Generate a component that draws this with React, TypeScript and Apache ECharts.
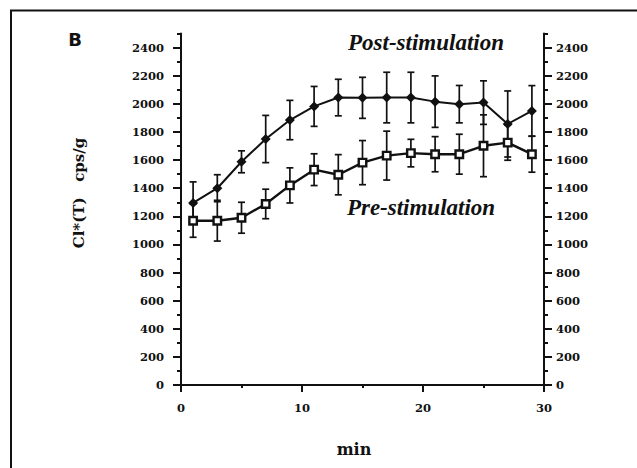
import React, { useEffect, useRef } from "react";
import * as echarts from "echarts";

const minutes = [1, 3, 5, 7, 9, 11, 13, 15, 17, 19, 21, 23, 25, 27, 29];
const postMean = [1295, 1400, 1588, 1750, 1885, 1982, 2045, 2043, 2045, 2045, 2016, 1998, 2009, 1857, 1950];
const postErr = [150, 96, 78, 168, 140, 142, 130, 146, 180, 180, 183, 133, 155, 235, 180];
const preMean = [1169, 1169, 1190, 1288, 1420, 1532, 1496, 1582, 1632, 1650, 1642, 1642, 1702, 1724, 1642];
const preErr = [118, 145, 110, 105, 125, 113, 143, 157, 174, 98, 125, 142, 220, 125, 128];

const yMajorTicks = [0, 200, 400, 600, 800, 1000, 1200, 1400, 1600, 1800, 2000, 2200, 2400];
const yMinorTicks = [100, 300, 500, 700, 900, 1100, 1300, 1500, 1700, 1900, 2100, 2300, 2500];

const postLabel = "Post-stimulation";
const preLabel = "Pre-stimulation";
const yTitle = "Cl*(T)   cps/g";
const xTitle = "min";
const panelLetter = "B";

const INK = "#111";
const tickFont = { fontFamily: "DejaVu Serif", fontWeight: "bold" as const, fontSize: 11.5, color: INK };

function errorBarSeries(mean: number[], err: number[]) {
  const data = minutes.map((m, i) => [m, mean[i] - err[i], mean[i] + err[i]]);
  return {
    type: "custom",
    yAxisIndex: 0,
    z: 1,
    silent: true,
    data,
    renderItem: (params: any, api: any) => {
      const x = api.value(0);
      const lo = api.coord([x, api.value(1)]);
      const hi = api.coord([x, api.value(2)]);
      const hw = 3.5;
      const style = { stroke: INK, lineWidth: 1.7 };
      return {
        type: "group",
        children: [
          { type: "line", shape: { x1: lo[0], y1: lo[1], x2: hi[0], y2: hi[1] }, style },
          { type: "line", shape: { x1: hi[0] - hw, y1: hi[1], x2: hi[0] + hw, y2: hi[1] }, style },
          { type: "line", shape: { x1: lo[0] - hw, y1: lo[1], x2: lo[0] + hw, y2: lo[1] }, style },
        ],
      };
    },
  };
}

function yAxisPair(position: "left" | "right", margin: number) {
  const major = {
    type: "value",
    position,
    min: 0,
    max: 2500,
    interval: 100,
    axisLine: { show: true, lineStyle: { color: INK, width: 2 } },
    axisTick: { show: true, inside: false, length: 8, customValues: yMajorTicks, lineStyle: { color: INK, width: 2 } },
    axisLabel: {
      show: true,
      margin,
      customValues: yMajorTicks,
      formatter: (v: number) => (v % 200 === 0 && v <= 2400 ? String(v) : ""),
      ...tickFont,
    },
    splitLine: { show: false },
  };
  const minor = {
    type: "value",
    position,
    min: 0,
    max: 2500,
    interval: 100,
    axisLine: { show: false },
    axisTick: { show: true, inside: false, length: 4, customValues: yMinorTicks, lineStyle: { color: INK, width: 2 } },
    axisLabel: { show: false },
    splitLine: { show: false },
  };
  return [major, minor];
}

export default function App() {
  const ref = useRef<HTMLDivElement>(null);

  useEffect(() => {
    if (!ref.current) return;
    const chart = echarts.init(ref.current, undefined, { renderer: "svg" });
    const option: any = {
      animation: false,
      backgroundColor: "#fff",
      grid: { left: 181, right: 93, top: 33.6, bottom: 83, containLabel: false },
      xAxis: {
        type: "value",
        min: 0,
        max: 30,
        interval: 10,
        axisLine: { show: true, lineStyle: { color: INK, width: 2 } },
        axisTick: { show: true, inside: false, length: 7, lineStyle: { color: INK, width: 2 } },
        minorTick: { show: true, splitNumber: 2, length: 3, lineStyle: { color: INK, width: 2 } },
        axisLabel: { margin: 17, ...tickFont },
        splitLine: { show: false },
        minorSplitLine: { show: false },
      },
      yAxis: [...yAxisPair("left", 17), ...yAxisPair("right", 12)],
      series: [
        errorBarSeries(postMean, postErr),
        errorBarSeries(preMean, preErr),
        {
          type: "line",
          name: postLabel,
          yAxisIndex: 0,
          z: 3,
          data: minutes.map((m, i) => [m, postMean[i]]),
          symbol: "diamond",
          symbolSize: 10,
          showAllSymbol: true,
          lineStyle: { color: INK, width: 2 },
          itemStyle: { color: INK, borderColor: INK, borderWidth: 0 },
        },
        {
          type: "line",
          name: preLabel,
          yAxisIndex: 0,
          z: 3,
          data: minutes.map((m, i) => [m, preMean[i]]),
          symbol: "rect",
          symbolSize: 7.5,
          showAllSymbol: true,
          lineStyle: { color: INK, width: 2.4 },
          itemStyle: { color: "#fff", borderColor: INK, borderWidth: 2.4 },
        },
      ],
      graphic: [
        {
          type: "rect",
          silent: true,
          shape: { x: 11, y: 10.5, width: 700, height: 600 },
          style: { fill: "none", stroke: INK, lineWidth: 2 },
        },
        {
          type: "text",
          x: 75,
          y: 39,
          style: { text: panelLetter, fontFamily: "DejaVu Sans", fontWeight: "bold", fontSize: 18, fill: INK, align: "center", verticalAlign: "middle" },
        },
        {
          type: "text",
          x: 426,
          y: 42,
          style: { text: postLabel, fontFamily: "Liberation Serif", fontStyle: "italic", fontWeight: "bold", fontSize: 23, fill: INK, align: "center", verticalAlign: "middle" },
        },
        {
          type: "text",
          x: 421,
          y: 207,
          style: { text: preLabel, fontFamily: "Liberation Serif", fontStyle: "italic", fontWeight: "bold", fontSize: 23, fill: INK, align: "center", verticalAlign: "middle" },
        },
        {
          type: "text",
          x: 79,
          y: 193,
          rotation: Math.PI / 2,
          style: { text: yTitle, fontFamily: "DejaVu Serif", fontWeight: "bold", fontSize: 15, fill: INK, align: "center", verticalAlign: "middle" },
        },
        {
          type: "text",
          x: 354,
          y: 449,
          style: { text: xTitle, fontFamily: "DejaVu Serif", fontWeight: "bold", fontSize: 16, fill: INK, align: "center", verticalAlign: "middle" },
        },
      ],
    };
    chart.setOption(option);
    return () => chart.dispose();
  }, []);

  return (
    <div
      ref={ref}
      style={{ position: "fixed", left: 0, top: 0, width: 637, height: 468, background: "#fff" }}
    />
  );
}
